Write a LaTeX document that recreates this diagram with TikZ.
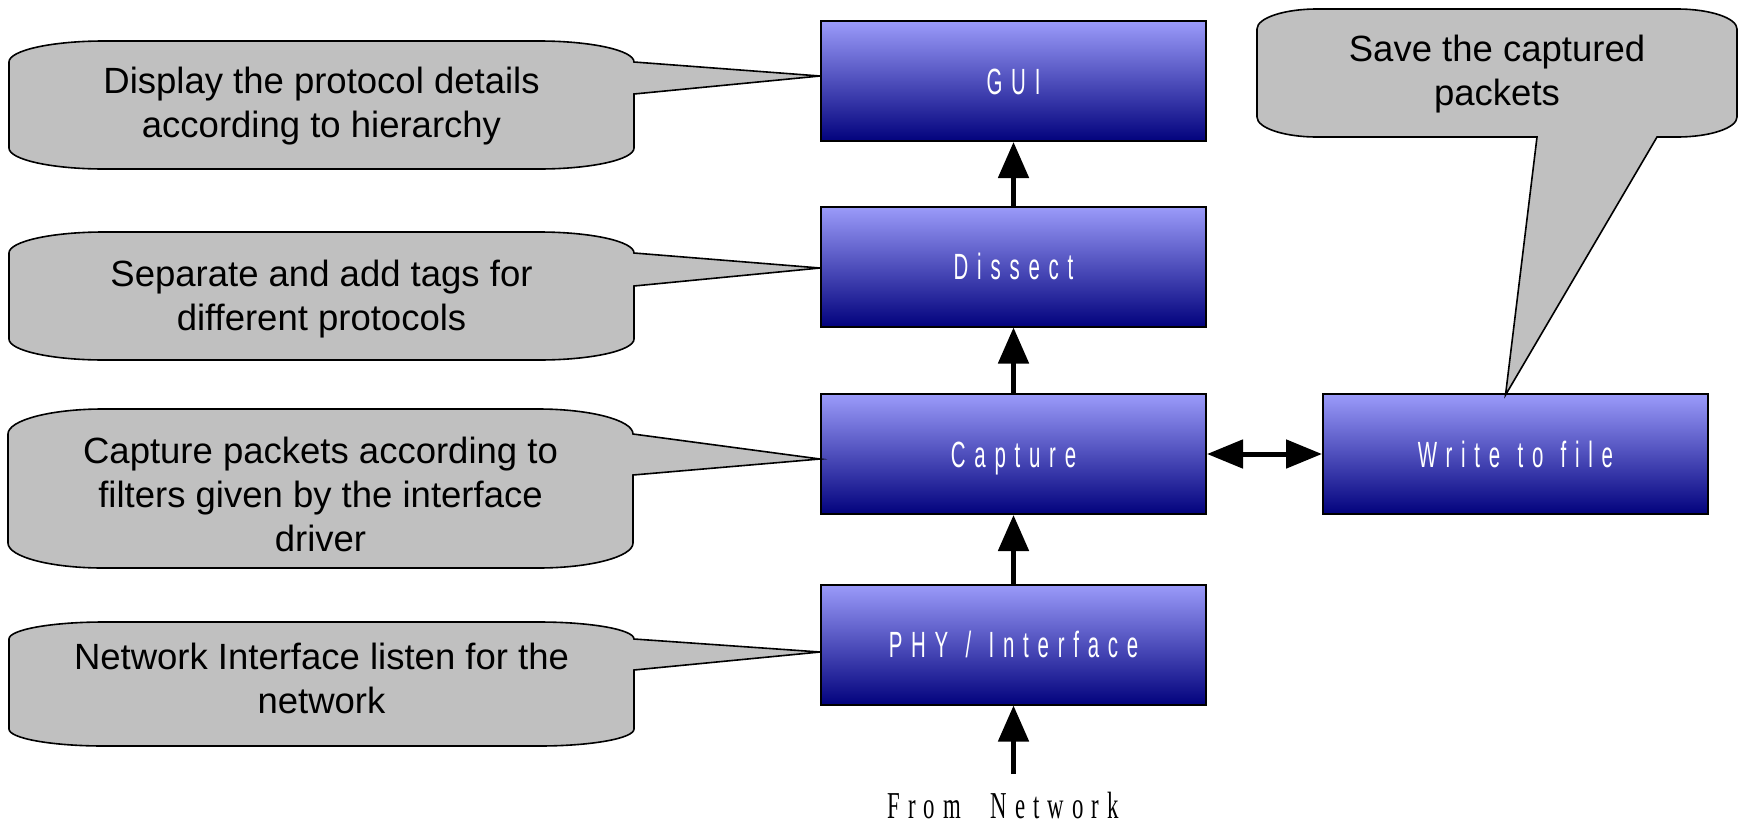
\documentclass[tikz,border=0pt]{standalone}
\usepackage{fontspec}
\setmainfont{Liberation Sans}
\newfontfamily\stagefont[FakeStretch=0.56,LetterSpace=24,WordSpace=1.2]{Liberation Sans}
\newfontfamily\netfont[FakeStretch=0.6,LetterSpace=21,WordSpace=2.2]{Liberation Serif}
\usetikzlibrary{arrows.meta,calc}

\definecolor{stagetop}{RGB}{155,155,250}
\definecolor{stagebot}{RGB}{2,2,125}
\definecolor{bubblegray}{RGB}{192,192,192}

\tikzset{
  stage/.style={draw=black, line width=2pt, minimum width=385pt, minimum height=120pt,
    inner sep=0pt, text height=26pt, text depth=0pt,
    top color=stagetop, bottom color=stagebot, text=white,
    font=\stagefont\fontsize{36.5}{40}\selectfont},
  bubble/.style={fill=bubblegray, draw=black, line width=1.6pt, line join=miter},
  note/.style={align=center, inner sep=0pt, font=\fontsize{36.5}{44.2}\selectfont},
  flow/.style={line width=5pt, -{Triangle[length=36pt,width=30pt]}},
  twoway/.style={line width=5pt, {Triangle[length=36pt,width=28pt]}-{Triangle[length=36pt,width=28pt]}},
}

% Speech bubble with elliptic corners and a pointer leaving its right side.
% #1 x1, #2 y1, #3 x2, #4 y2, #5 corner height, #6 pointer foot, #7 pointer tip
\newcommand{\leftcallout}[7]{%
  \filldraw[bubble] ({#1+95},#2) -- ({#3-95},#2)
    .. controls ({#3-42.6},#2) and (#3,{#2+0.448*#5}) .. (#3,{#2+#5})
    -- (#7) -- (#3,#6) -- (#3,{#4-#5})
    .. controls (#3,{#4-0.448*#5}) and ({#3-42.6},#4) .. ({#3-95},#4)
    -- ({#1+95},#4)
    .. controls ({#1+42.6},#4) and (#1,{#4-0.448*#5}) .. (#1,{#4-#5})
    -- (#1,{#2+#5})
    .. controls (#1,{#2+0.448*#5}) and ({#1+42.6},#2) .. cycle;}

\begin{document}
\begin{tikzpicture}[x=1pt,y=-1pt]
\useasboundingbox (0,0) rectangle (1744,825);

% processing stages
\node[stage] (gui)     at (1013.5,81)    {GUI};
\node[stage] (dissect) at (1013.5,266.5) {Dissect};
\node[stage] (capture) at (1013.5,454)   {Capture};
\node[stage] (phy)     at (1013.5,644.5) {PHY / Interface};
\node[stage] (write)   at (1515.5,454)   {Write to file};

% data flow
\coordinate (feed) at (1013.5,774);
\draw[flow] (feed) -- (phy.south);
\draw[flow] (phy.north) -- (capture.south);
\draw[flow] (capture.north) -- (dissect.south);
\draw[flow] (dissect.north) -- (gui.south);
\draw[twoway] (capture.east) -- (write.west);

\node[font=\netfont\fontsize{38}{40}\selectfont, anchor=base, inner sep=0pt] (src) at (1003,818) {From Network};

% pointer tips on the stages
\coordinate (tipgui) at ($(gui.west)+(0,-5)$);
\coordinate (tipdis) at ($(dissect.west)+(0,1.5)$);
\coordinate (tipcap) at ($(capture.west)+(0,5)$);
\coordinate (tipphy) at ($(phy.west)+(0,7.5)$);
\coordinate (tipwri) at ($(write.north)+(-10,2)$);

% explanation bubbles
\leftcallout{9}{41}{634}{169}{21}{94}{tipgui}
\leftcallout{9}{232}{634}{360}{21}{286}{tipdis}
\leftcallout{8}{409}{633}{568}{25}{475}{tipcap}
\leftcallout{9}{622}{634}{746}{17}{670}{tipphy}

\filldraw[bubble] (1317,9) -- (1677,9)
  .. controls (1710,9) and (1737,18) .. (1737,29)
  -- (1737,117)
  .. controls (1737,128) and (1710,137) .. (1677,137)
  -- (1657,137) -- (tipwri) -- (1537,137) -- (1317,137)
  .. controls (1284,137) and (1257,128) .. (1257,117)
  -- (1257,29)
  .. controls (1257,18) and (1284,9) .. cycle;

\node[note] (n1) at (321.5,106)  {Display the protocol details\\according to hierarchy};
\node[note] (n2) at (321.5,299) {Separate and add tags for\\different protocols};
\node[note] (n3) at (320.5,494.5) {Capture packets according to\\filters given by the interface\\driver};
\node[note] (n4) at (321.5,678.5)  {Network Interface listen for the\\network};
\node[note] (n5) at (1497,74)    {Save the captured\\packets};
\end{tikzpicture}
\end{document}
